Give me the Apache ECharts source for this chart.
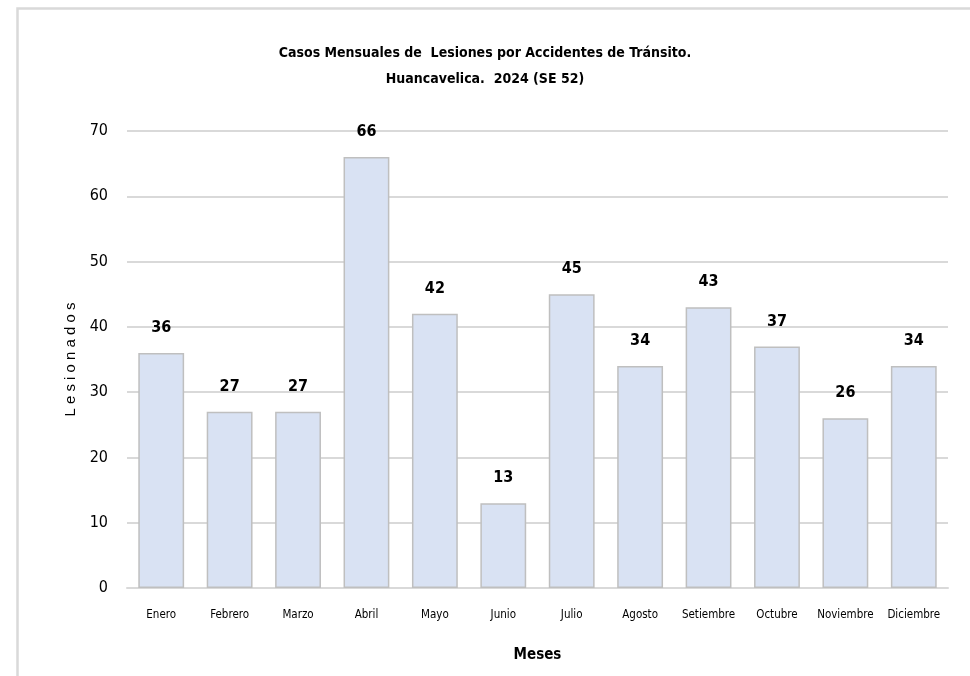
<!DOCTYPE html>
<html><head><meta charset="utf-8">
<script src="https://cdn.jsdelivr.net/npm/echarts@6/dist/echarts.min.js"></script>
<style>html,body{margin:0;padding:0;background:#fff}#c{width:970px;height:676px}</style>
</head><body><div id="c"></div>
<script>
const categories = ['Enero','Febrero','Marzo','Abril','Mayo','Junio','Julio','Agosto','Setiembre','Octubre','Noviembre','Diciembre'];
const values = [36,27,27,66,42,13,45,34,43,37,26,34];
const yTicks = {min:0, max:70, interval:10};
const titleLines = ['Casos Mensuales de  Lesiones por Accidentes de Tránsito.','Huancavelica.  2024 (SE 52)'];
const narrow = '"DejaVu Sans Condensed", "Liberation Sans Narrow", sans-serif';

const chart = echarts.init(document.getElementById('c'));
chart.setOption({
  animation:false,
  graphic:[{type:'rect',left:15,top:6,shape:{width:970,height:700},style:{fill:'none',stroke:'#d9d9d9',lineWidth:2.5},silent:true}],
  title:{text:titleLines.join('\n'),left:'center',top:35,textStyle:{fontFamily:narrow,fontWeight:'bold',fontSize:14,color:'#000',lineHeight:26}},
  grid:{left:127,right:22,top:131,bottom:88},
  xAxis:{type:'category',data:categories,name:'Meses',nameLocation:'middle',nameGap:60,
    nameTextStyle:{fontFamily:narrow,fontWeight:'bold',fontSize:15,color:'#000'},
    axisLine:{lineStyle:{color:'#d9d9d9',width:2}},axisTick:{show:false},
    axisLabel:{interval:0,fontFamily:narrow,fontSize:11.5,color:'#000',margin:21}},
  yAxis:{type:'value',min:yTicks.min,max:yTicks.max,interval:yTicks.interval,name:'L e s i o n a d o s',nameLocation:'middle',nameGap:37,
    nameTextStyle:{fontFamily:'"Liberation Sans", sans-serif',fontSize:15,color:'#000'},
    axisLine:{show:false},axisTick:{show:false},
    splitLine:{lineStyle:{color:'#d9d9d9',width:2}},
    axisLabel:{fontFamily:narrow,fontSize:16,color:'#000',margin:19}},
  series:[{type:'bar',data:values,barCategoryGap:'33%',
    itemStyle:{color:'#d9e2f3',borderColor:'#bfbfbf',borderWidth:1.5},
    label:{show:true,position:'top',distance:17,fontFamily:narrow,fontWeight:'bold',fontSize:16,color:'#000'}}]
});
</script></body></html>
